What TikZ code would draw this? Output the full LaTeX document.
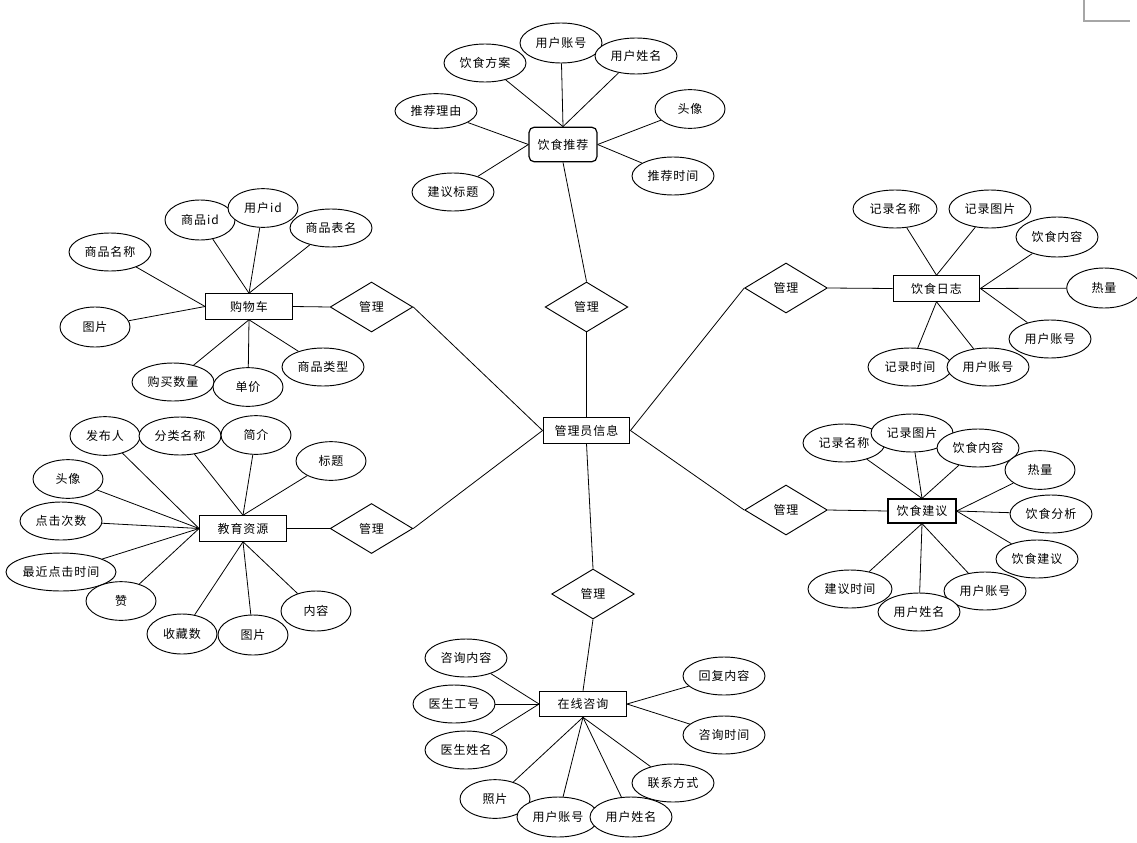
\documentclass[tikz,border=0pt]{standalone}
\usepackage{fontspec}
\newfontfamily\cjk[LetterSpace=8]{Noto Sans CJK SC}
\usetikzlibrary{shapes.geometric,backgrounds}
\tikzset{
  base/.style={font=\cjk\fontsize{9}{10}\selectfont, text=black, inner sep=0pt, draw=black, line width=0.7pt, fill=white},
  attr/.style={base, ellipse, minimum width=61.5pt, minimum height=28.5pt},
  attrs/.style={base, ellipse, minimum width=52.5pt, minimum height=29pt},
  ent/.style={base, rectangle, minimum width=65pt, minimum height=19pt, line width=0.9pt},
  rel/.style={base, diamond, aspect=1.66, minimum width=62pt, minimum height=37.5pt},
  link/.style={draw=black, line width=0.6pt}
}
\begin{document}
\begin{tikzpicture}[x=0.75pt,y=-0.75pt]
\useasboundingbox (0,0) rectangle (1137,842);
\draw[gray!70, line width=0.8pt] (1084,0) -- (1084,21) -- (1130,21);

% central entity and relationships
\node[ent] (admin) at (586.5,430.5) {管理员信息};
\node[rel] (m1) at (586.5,307) {管理};
\node[rel] (m2) at (371.5,307) {管理};
\node[rel] (m3) at (371.5,528.5) {管理};
\node[rel] (m4) at (786,288) {管理};
\node[rel] (m5) at (786,510) {管理};
\node[rel] (m6) at (593,594) {管理};

% entities
\node[ent, rounded corners=4pt, minimum width=51pt, minimum height=26pt] (rec) at (563,144.5) {饮食推荐};
\node[ent] (cart) at (249,306.5) {购物车};
\node[ent] (edu) at (243,528.5) {教育资源};
\node[ent] (log) at (936.5,288.5) {饮食日志};
\node[ent, minimum width=51pt, minimum height=18pt] (sug) at (922,511) {饮食建议};
\node[ent] (con) at (583,704) {在线咨询};

% 饮食推荐 attributes
\node[attr] (r1) at (485,63) {饮食方案};
\node[attr, minimum height=30pt] (r2) at (561,43) {用户账号};
\node[attr, minimum height=27pt] (r3) at (636,56) {用户姓名};
\node[attr, minimum height=26pt] (r4) at (436,111) {推荐理由};
\node[attrs] (r5) at (690,109) {头像};
\node[attr] (r6) at (673,176) {推荐时间};
\node[attr] (r7) at (453,192) {建议标题};

% 购物车 attributes
\node[attrs, minimum height=30pt] (c1) at (200,220) {商品id};
\node[attrs] (c2) at (263,208) {用户id};
\node[attr] (c3) at (331,228) {商品表名};
\node[attr] (c4) at (110,252) {商品名称};
\node[attrs, minimum height=30pt] (c5) at (95,327) {图片};
\node[attr] (c6) at (173,382) {购买数量};
\node[attrs] (c7) at (248,387) {单价};
\node[attr] (c8) at (323,367) {商品类型};

% 教育资源 attributes
\node[attrs] (e1) at (105,436) {发布人};
\node[attr] (e2) at (180,436) {分类名称};
\node[attrs] (e3) at (256,435) {简介};
\node[attrs] (e4) at (331,461) {标题};
\node[attrs] (e5) at (68,479) {头像};
\node[attr] (e6) at (61,521) {点击次数};
\node[attr, minimum width=82.5pt] (e7) at (61,572) {最近点击时间};
\node[attrs] (e8) at (121,601) {赞};
\node[attrs, minimum height=30pt] (e9) at (182,634) {收藏数};
\node[attrs, minimum height=30pt] (e10) at (253,635) {图片};
\node[attrs, minimum height=30pt] (e11) at (316,611) {内容};

% 饮食日志 attributes
\node[attr, minimum width=63pt] (l1) at (895,209) {记录名称};
\node[attr] (l2) at (990,209) {记录图片};
\node[attr, minimum height=30pt] (l3) at (1057,237) {饮食内容};
\node[attrs, minimum width=56pt, minimum height=30pt] (l4) at (1104,288) {热量};
\node[attr] (l5) at (1050,339) {用户账号};
\node[attr, minimum width=63pt] (l6) at (910,367) {记录时间};
\node[attr] (l7) at (988,367) {用户账号};

% 饮食建议 attributes
\node[attr] (s1) at (844,443) {记录名称};
\node[attr] (s2) at (912,433) {记录图片};
\node[attr] (s3) at (978,448) {饮食内容};
\node[attrs] (s4) at (1040,470) {热量};
\node[attr] (s5) at (1051,514) {饮食分析};
\node[attr] (s6) at (1037,559) {饮食建议};
\node[attr, minimum width=63pt] (s9) at (850,589) {建议时间};
\node[attr] (s7) at (985,591) {用户账号};
\node[attr] (s8) at (919,612) {用户姓名};

% 在线咨询 attributes
\node[attr] (o1) at (466,658) {咨询内容};
\node[attr] (o2) at (454,704) {医生工号};
\node[attr] (o3) at (466,750) {医生姓名};
\node[attr] (o4) at (724,676) {回复内容};
\node[attr] (o5) at (724,735) {咨询时间};
\node[attr] (o6) at (673,783) {联系方式};
\node[attrs] (o7) at (495,799) {照片};
\node[attr, minimum height=30pt] (o8) at (558,817) {用户账号};
\node[attr, minimum height=30pt] (o9) at (631,817) {用户姓名};

\begin{scope}[on background layer]
  \fill[white] (0,0) rectangle (1137,842);
  % relationships
  \draw[link] (admin.north) -- (m1.south);
  \draw[link] (m1.north) -- (rec.south);
  \draw[link] (cart.east) -- (m2.west);
  \draw[link] (m2.east) -- (admin.west);
  \draw[link] (edu.east) -- (m3.west);
  \draw[link] (m3.east) -- (admin.west);
  \draw[link] (m4.east) -- (log.west);
  \draw[link] (m4.west) -- (admin.east);
  \draw[link] (m5.east) -- (sug.west);
  \draw[link] (m5.west) -- (admin.east);
  \draw[link] (con.north) -- (m6.south);
  \draw[link] (m6.north) -- (admin.south);
  % 饮食推荐
  \foreach \a in {r1,r2,r3} \draw[link] (\a) -- (rec.north);
  \foreach \a in {r4,r7} \draw[link] (\a) -- (rec.west);
  \foreach \a in {r5,r6} \draw[link] (\a) -- (rec.east);
  % 购物车
  \foreach \a in {c1,c2,c3} \draw[link] (\a) -- (cart.north);
  \foreach \a in {c4,c5} \draw[link] (\a) -- (cart.west);
  \foreach \a in {c6,c7,c8} \draw[link] (\a) -- (cart.south);
  % 教育资源
  \foreach \a in {e1,e5,e6,e7,e8} \draw[link] (\a) -- (edu.west);
  \foreach \a in {e2,e3,e4} \draw[link] (\a) -- (edu.north);
  \foreach \a in {e9,e10,e11} \draw[link] (\a) -- (edu.south);
  % 饮食日志
  \foreach \a in {l1,l2} \draw[link] (\a) -- (log.north);
  \foreach \a in {l3,l4,l5} \draw[link] (\a) -- (log.east);
  \foreach \a in {l6,l7} \draw[link] (\a) -- (log.south);
  % 饮食建议
  \foreach \a in {s1,s2,s3} \draw[link] (\a) -- (sug.north);
  \foreach \a in {s4,s5,s6} \draw[link] (\a) -- (sug.east);
  \foreach \a in {s7,s8,s9} \draw[link] (\a) -- (sug.south);
  % 在线咨询
  \foreach \a in {o1,o2,o3} \draw[link] (\a) -- (con.west);
  \foreach \a in {o4,o5} \draw[link] (\a) -- (con.east);
  \foreach \a in {o6,o7,o8,o9} \draw[link] (\a) -- (con.south);
\end{scope}
\end{tikzpicture}
\end{document}
